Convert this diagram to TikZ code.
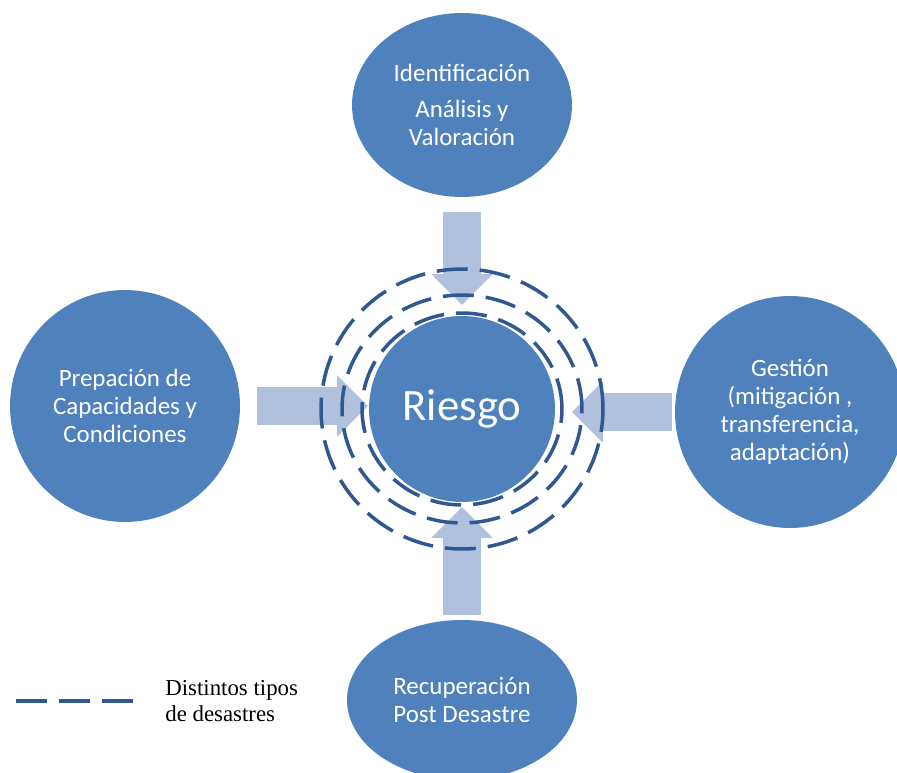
\documentclass[tikz,border=0pt]{standalone}
\usepackage{fontspec}
\setmainfont{Liberation Serif}
\newfontfamily\calibri{Carlito}
\usepackage{tikz}
\usetikzlibrary{positioning,calc,shapes.geometric,arrows.meta}
\definecolor{RiskBlue}{RGB}{79,129,189}
\definecolor{ArrowBlue}{RGB}{176,193,222}
\definecolor{DashBlue}{RGB}{47,88,145}
\tikzset{
    fase/.style={ellipse, fill=RiskBlue, text=white, align=center, inner sep=0pt, font=\calibri\fontsize{14.2}{16}\selectfont},
    flecha/.style={draw=ArrowBlue, line width=0.75cm, -{Triangle[width=1.2cm, length=0.62cm]}},
    desastre/.style={draw=DashBlue, line width=2pt, dash pattern=on 0.62cm off 0.24cm}
}

\begin{document}
\begin{tikzpicture}[x=0.02cm, y=-0.02cm]
    \clip (0,0) rectangle (897,773);
    \useasboundingbox (0,0) rectangle (897,773);

    % 1. FASES ALREDEDOR DEL RIESGO
    \node[fase, minimum width=4.4cm, minimum height=3.68cm] (ident) at (462,105)
        {Identificación\\[4pt] Análisis y\\Valoración};
    \node[fase, minimum width=4.6cm, minimum height=4.64cm] (prep) at (125,406)
        {Prepación de\\Capacidades y\\Condiciones};
    \node[fase, minimum width=4.6cm, minimum height=4.64cm] (gestion) at (790,412)
        {Gestión\\(mitigación ,\\transferencia,\\adaptación)};
    \node[fase, minimum width=4.6cm, minimum height=3.2cm] (recup) at (462,700)
        {Recuperación\\Post Desastre};

    % 2. FLECHAS HACIA EL CENTRO
    \draw[flecha] ($(ident.south)+(0,15)$) -- ($(ident.south |- 0,316)+(0,-11)$);
    \draw[flecha] ($(prep.east)+(17,0)$) -- ($(prep.east -| 369,0)+(-1,0)$);
    \draw[flecha] ($(gestion.west)+(-3,0)$) -- ($(gestion.west -| 555,0)+(17,0)$);
    \draw[flecha] ($(recup.north)+(0,-5)$) -- ($(recup.north |- 0,502)+(0,5)$);

    % 3. RIESGO Y TIPOS DE DESASTRES
    \node[circle, fill=RiskBlue, text=white, inner sep=0pt, minimum size=3.72cm,
          font=\calibri\fontsize{25.5}{30}\selectfont] (riesgo) at (462,409) {Riesgo};
    \draw[desastre] (riesgo.center) ellipse [x radius=2cm, y radius=1.92cm];
    \draw[desastre] (riesgo.center) ellipse [x radius=2.4cm, y radius=2.28cm];
    \draw[desastre] (riesgo.center) ellipse [x radius=2.82cm, y radius=2.8cm];

    % 4. LEYENDA
    \coordinate (leyA) at (16,701);
    \coordinate (leyB) at (133,701);
    \draw[desastre] (leyA) -- (leyB);
    \node[right=0.64cm of leyB, inner sep=0pt, align=left,
          font=\fontsize{13}{15.3}\selectfont] (leyenda) {Distintos tipos\\de desastres};
\end{tikzpicture}
\end{document}
